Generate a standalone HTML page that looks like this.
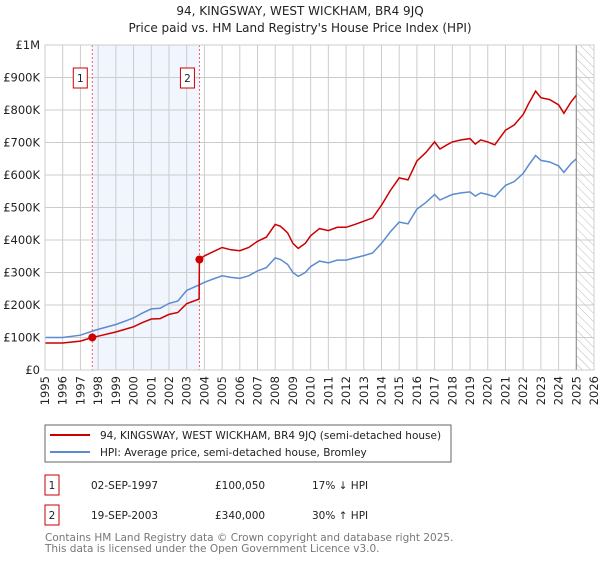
<!DOCTYPE html>
<html><head><meta charset="utf-8"><style>
body{margin:0;background:#fff;width:600px;height:560px;overflow:hidden;font-family:"DejaVu Sans","Liberation Sans",sans-serif}
svg text{font-family:"DejaVu Sans","Liberation Sans",sans-serif}
</style></head><body>
<svg id="c" width="600" height="560" viewBox="0 0 600 560" xmlns="http://www.w3.org/2000/svg">
<defs><pattern id="hatch" width="6" height="6" patternUnits="userSpaceOnUse" patternTransform="rotate(-45)"><line x1="0" y1="0" x2="0" y2="6" stroke="#bbb" stroke-width="1"/></pattern></defs>
<text x="300" y="15" text-anchor="middle" font-size="12" fill="#222">94, KINGSWAY, WEST WICKHAM, BR4 9JQ</text>
<text x="300" y="32" text-anchor="middle" font-size="12" fill="#222">Price paid vs. HM Land Registry's House Price Index (HPI)</text>
<g id="plot"></g>
<rect x="45" y="425" width="406" height="37" fill="#fff" stroke="#666"/>
<line x1="50" y1="435" x2="90" y2="435" stroke="#cc0000" stroke-width="2"/>
<text x="100" y="439" font-size="10.5" fill="#222">94, KINGSWAY, WEST WICKHAM, BR4 9JQ (semi-detached house)</text>
<line x1="50" y1="452" x2="90" y2="452" stroke="#5b8bd0" stroke-width="2"/>
<text x="100" y="456" font-size="10.5" fill="#222">HPI: Average price, semi-detached house, Bromley</text>
<g font-size="10.5" fill="#222">
<rect x="45" y="475" width="14" height="20" fill="#fff" stroke="#cc0000"/><text x="52" y="489" text-anchor="middle">1</text>
<text x="91" y="489">02-SEP-1997</text><text x="215" y="489">£100,050</text><text x="312" y="489">17% ↓ HPI</text></g>
<g font-size="10.5" fill="#222">
<rect x="45" y="505" width="14" height="20" fill="#fff" stroke="#cc0000"/><text x="52" y="519" text-anchor="middle">2</text>
<text x="91" y="519">19-SEP-2003</text><text x="215" y="519">£340,000</text><text x="312" y="519">30% ↑ HPI</text></g>
<text x="45" y="541" font-size="10.5" fill="#777">Contains HM Land Registry data © Crown copyright and database right 2025.</text>
<text x="45" y="552" font-size="10.5" fill="#777">This data is licensed under the Open Government Licence v3.0.</text>
</svg>
<script>
const hpiYears=[1995,1996,1997,1997.7,1998,1999,2000,2000.5,2001,2001.5,2002,2002.5,2003,2003.7,2004,2004.5,2005,2005.5,2006,2006.5,2007,2007.5,2008,2008.3,2008.7,2009,2009.3,2009.7,2010,2010.5,2011,2011.5,2012,2012.5,2013,2013.5,2014,2014.5,2015,2015.5,2016,2016.5,2017,2017.3,2017.7,2018,2018.5,2019,2019.3,2019.6,2020,2020.4,2021,2021.5,2022,2022.3,2022.7,2023,2023.5,2024,2024.3,2024.7,2025];
const hpiValues=[100,100,107,120,125,140,160,175,188,190,205,212,245,262,270,280,290,285,282,290,305,315,345,340,325,300,288,300,318,335,330,338,338,345,352,360,390,425,455,450,495,515,540,523,533,540,545,548,535,545,540,533,568,580,605,630,660,645,640,628,608,635,650];
const priceYears=[1995,1996,1997,1997.67,1998,1999,2000,2000.5,2001,2001.5,2002,2002.5,2003,2003.7,2003.72,2004,2004.5,2005,2005.5,2006,2006.5,2007,2007.5,2008,2008.3,2008.7,2009,2009.3,2009.7,2010,2010.5,2011,2011.5,2012,2012.5,2013,2013.5,2014,2014.5,2015,2015.5,2016,2016.5,2017,2017.3,2017.7,2018,2018.5,2019,2019.3,2019.6,2020,2020.4,2021,2021.5,2022,2022.3,2022.7,2023,2023.5,2024,2024.3,2024.7,2025];
const priceValues=[83,83,89,100,104,117,133,146,157,158,171,177,204,218,340,351,364,377,370,367,377,396,409,448,442,422,390,374,390,413,435,429,439,439,448,458,468,507,552,591,585,643,669,702,680,693,702,708,712,695,708,702,693,738,754,786,819,858,838,832,816,790,825,845];
const saleYears=[1997.67,2003.72];
const saleValues=[100.05,340];
const saleLabels=["1","2"];
const yTicks=[0,100,200,300,400,500,600,700,800,900,1000];
const yTickLabels=["£0","£100K","£200K","£300K","£400K","£500K","£600K","£700K","£800K","£900K","£1M"];
const xTicks=[1995,1996,1997,1998,1999,2000,2001,2002,2003,2004,2005,2006,2007,2008,2009,2010,2011,2012,2013,2014,2015,2016,2017,2018,2019,2020,2021,2022,2023,2024,2025,2026];
const dataEnd=2025.0;
const X0=45,X1=594,Y0=370,Y1=45;
const xs=y=>X0+(y-1995)/(2026-1995)*(X1-X0);
const ys=v=>Y0-v/1000*(Y0-Y1);
const NS="http://www.w3.org/2000/svg";
const g=document.getElementById('plot');
function mk(t,a){const e=document.createElementNS(NS,t);for(const k in a)e.setAttribute(k,a[k]);g.appendChild(e);return e;}
let e;
e=mk('rect',{x:xs(saleYears[0]),y:Y1,width:xs(saleYears[1])-xs(saleYears[0]),height:Y0-Y1,fill:'#eef3fc',opacity:0.8});


e=mk('rect',{x:xs(dataEnd),y:Y1,width:X1-xs(dataEnd),height:Y0-Y1,fill:'url(#hatch)'});


yTicks.forEach((t,i)=>{
 e=mk('line',{x1:X0,x2:X1,y1:ys(t),y2:ys(t),stroke:'#ccc','stroke-width':1});
 
 
 e=mk('text',{x:X0-5,y:ys(t)+4,'text-anchor':'end','font-size':11.5,fill:'#222'});
 e.textContent=yTickLabels[i];
 
 
});
xTicks.forEach(t=>{
 e=mk('line',{x1:xs(t),x2:xs(t),y1:Y1,y2:Y0,stroke:'#ccc','stroke-width':1});
 
 
 e=mk('text',{x:0,y:0,'text-anchor':'end','font-size':11.5,fill:'#222',transform:`translate(${xs(t)+4},${Y0+6}) rotate(-90)`});
 e.textContent=t;
 
 
});
e=mk('line',{x1:xs(dataEnd),x2:xs(dataEnd),y1:Y1,y2:Y0,stroke:'#888','stroke-width':1});


saleYears.forEach((s,i)=>{
 e=mk('line',{x1:xs(s),x2:xs(s),y1:Y1,y2:Y0,stroke:'#f06060','stroke-width':1,'stroke-dasharray':'2,2'});
 
 
 e=mk('rect',{x:xs(s)-19,y:68,width:14,height:20,fill:'#fff',stroke:'#cc0000'});
 
 
 e=mk('text',{x:xs(s)-12,y:82,'text-anchor':'middle','font-size':10.5,fill:'#222'});
 e.textContent=saleLabels[i];
 
 
});
e=mk('path',{d:hpiYears.map((y,i)=>(i?'L':'M')+xs(y).toFixed(1)+','+ys(hpiValues[i]).toFixed(1)).join(''),fill:'none',stroke:'#5b8bd0','stroke-width':1.5});


e=mk('path',{d:priceYears.map((y,i)=>(i?'L':'M')+xs(y).toFixed(1)+','+ys(priceValues[i]).toFixed(1)).join(''),fill:'none',stroke:'#cc0000','stroke-width':1.5});


saleYears.forEach((s,i)=>{
 e=mk('circle',{cx:xs(s),cy:ys(saleValues[i]),r:4,fill:'#cc0000'});
 
 
});
e=mk('rect',{x:X0,y:Y1,width:X1-X0,height:Y0-Y1,fill:'none',stroke:'#ccc'});


</script>
</body></html>
